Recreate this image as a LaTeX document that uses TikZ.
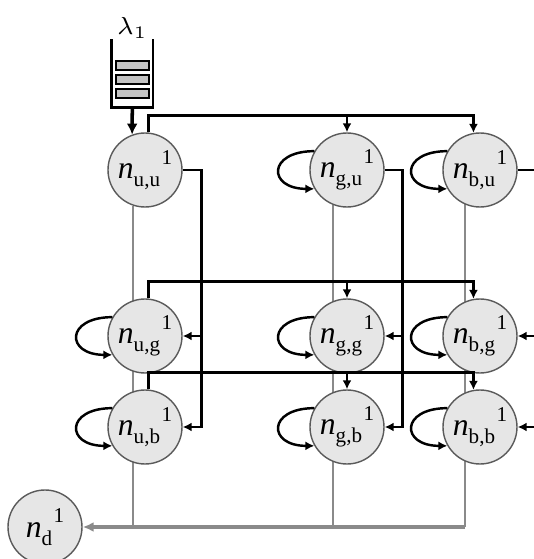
\documentclass[tikz,border=0pt]{standalone}
\usepackage{fontspec}
\setmainfont{Liberation Serif}
\usetikzlibrary{automata,positioning,arrows.meta,backgrounds}

\definecolor{nodefill}{HTML}{E6E6E6}
\definecolor{nodeline}{HTML}{5A5A5A}
\definecolor{exitgray}{HTML}{8A8A8A}
\definecolor{slotfill}{HTML}{C4C4C4}

\newcommand{\nlab}[1]{\textit{n}\raisebox{-0.55ex}{\fontsize{6}{7}\selectfont #1}\hspace{0.4pt}\raisebox{1.0ex}{\fontsize{6}{7}\selectfont 1}}

\begin{document}
\begin{tikzpicture}[node distance=2cm,on grid,auto,
    every state/.style={circle,draw=nodeline,fill=nodefill,line width=0.4pt,minimum size=0.74cm,inner sep=0pt,font=\fontsize{9}{10}\selectfont},
    >={Latex[length=0.9mm,width=0.9mm]},
    link/.style={line width=0.7pt},
    exit/.style={draw=exitgray,line width=0.6pt},
    self/.style={out=180,in=180,looseness=3.2},
    wall/.style={line width=0.8pt},
    slot/.style={draw,fill=slotfill,line width=0.7pt,minimum width=0.33cm,minimum height=0.09cm,inner sep=0pt}]
    \useasboundingbox (0,0) rectangle (5.34,5.59);

    \node[state] (nuu) at (1.45,3.89) {\nlab{u,u}};
    \node[state] (ngu) [right=2.02 of nuu] {\nlab{g,u}};
    \node[state] (nbu) [right=1.33 of ngu] {\nlab{b,u}};
    \node[state] (nug) [below=1.66 of nuu] {\nlab{u,g}};
    \node[state] (ngg) [right=2.02 of nug] {\nlab{g,g}};
    \node[state] (nbg) [right=1.33 of ngg] {\nlab{b,g}};
    \node[state] (nub) [below=0.91 of nug] {\nlab{u,b}};
    \node[state] (ngb) [right=2.02 of nub] {\nlab{g,b}};
    \node[state] (nbb) [right=1.33 of ngb] {\nlab{b,b}};
    \node[state] (nd) [below left=1.0 and 1.0 of nub] {\nlab{d}};

    % arrival queue
    \node[minimum width=0.4cm,minimum height=0.67cm,inner sep=0pt] (queue) [above left=0.965 and 0.127 of nuu] {};
    \draw[wall] (queue.north west) -- (queue.south west) -- (queue.south east) -- (queue.north east);
    \node[slot] (slot2) [below=0.06 of queue] {};
    \node[slot] (slot1) [above=0.14 of slot2] {};
    \node[slot] (slot3) [below=0.14 of slot2] {};
    \node (rate) [above=0.455 of queue] {\fontsize{7}{8}\selectfont$\lambda_1$};
    \draw[line width=1pt,-{Latex[length=1.1mm,width=1.1mm]}] (queue.south) -- (nuu.110);

    % departures
    \begin{scope}[on background layer]
    \draw[exit] (nuu.251) -- (nuu.251 |- nd.east);
    \draw[exit] (ngu.248) -- (ngu.248 |- nd.east);
    \draw[exit] (nbu.246) -- (nbu.246 |- nd.east);
    \end{scope}
    \draw[exit,line width=0.9pt,-{Latex[length=1.1mm,width=1mm]}] (nbb.246 |- nd.east) -- (nd.east);

    % row moves
    \coordinate[above=0.17 of nuu.north] (topu);
    \coordinate[above=0.17 of nug.north] (topg);
    \coordinate[above=0.17 of nub.north] (topb);
    \draw[link,->] (nuu.85) |- (nbu.100 |- topu) -- (nbu.100);
    \draw[link,->] (ngu.north |- topu) -- (ngu.north);
    \draw[link,->] (nug.85) |- (nbg.100 |- topg) -- (nbg.100);
    \draw[link,->] (ngg.north |- topg) -- (ngg.north);
    \draw[link,->] (nub.85) |- (nbb.100 |- topb) -- (nbb.100);
    \draw[link,->] (ngb.north |- topb) -- (ngb.north);

    % column moves
    \coordinate[right=0.19 of nuu.east] (sideu);
    \coordinate[right=0.18 of ngu.east] (sideg);
    \coordinate[right=0.3 of nbu.east] (sideb);
    \draw[link,->] (nuu.east) -- (sideu) |- (nub.east);
    \draw[link,->] (sideu |- nug.east) -- (nug.east);
    \draw[link,->] (ngu.east) -- (sideg) |- (ngb.east);
    \draw[link,->] (sideg |- ngg.east) -- (ngg.east);
    \draw[link,->] (nbu.east) -- (sideb) |- (nbb.east);
    \draw[link,->] (sideb |- nbg.east) -- (nbg.east);

    % staying put
    \path[link,->] (ngu.150) edge[self] (ngu.210)
                   (nbu.150) edge[self] (nbu.210)
                   (nug.150) edge[self] (nug.210)
                   (ngg.150) edge[self] (ngg.210)
                   (nbg.150) edge[self] (nbg.210)
                   (nub.150) edge[self] (nub.210)
                   (ngb.150) edge[self] (ngb.210)
                   (nbb.150) edge[self] (nbb.210);
\end{tikzpicture}
\end{document}
